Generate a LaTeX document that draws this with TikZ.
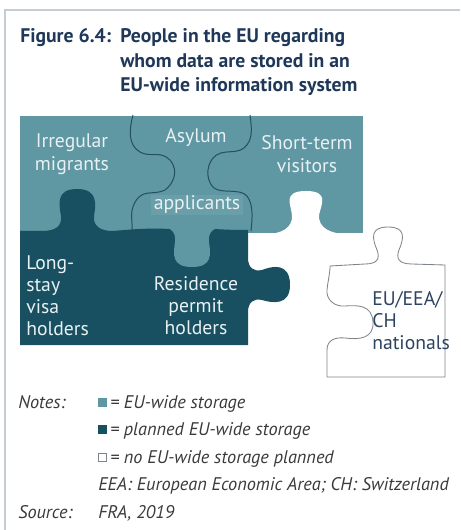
\documentclass[tikz,border=0pt]{standalone}
\usepackage{fontspec}
\setmainfont{PT Sans}
\definecolor{lightteal}{HTML}{5F97A3}
\definecolor{darkteal}{HTML}{184F61}
\definecolor{seam}{HTML}{22505C}
\definecolor{titleblue}{HTML}{1F3859}
\definecolor{piecetext}{HTML}{E8F1F3}
\definecolor{framegray}{HTML}{C5CCD3}
\definecolor{notegray}{HTML}{3A3A3A}
\definecolor{outlinegray}{HTML}{7D848A}
\begin{document}
\begin{tikzpicture}[x=0.025cm,y=-0.025cm,
    titleline/.style={anchor=base west,inner sep=0pt,text=titleblue,font=\fontsize{14}{17}\selectfont\bfseries},
    piecelabel/.style={inner sep=0pt,text=piecetext,align=center,font=\fontsize{14}{16.4}\selectfont},
    noteline/.style={anchor=base west,inner sep=0pt,text=notegray,font=\fontsize{13}{15}\selectfont\itshape}]
  \useasboundingbox (0,0) rectangle (460,530);
  % frame
  \draw [framegray, line width=1.4pt] (5,530) -- (5,10) -- (460,10);
  % title
  \node [titleline] (fig) at (20,43) {Figure 6.4:};
  \node [titleline] (title1) at (120,43) {People in the EU regarding};
  \node [titleline] (title2) at (120,68) {whom data are stored in an};
  \node [titleline] (title3) at (120,92) {EU-wide information system};
  % puzzle
  \fill [lightteal] (20,116) rectangle (363,233);
  \fill [darkteal] (20,231) -- (42,231) .. controls (56,231) and (62,226) .. (61,216)
    .. controls (59,204) and (56,189) .. (77,189) .. controls (98,189) and (96,204) .. (94,216)
    .. controls (93,226) and (100,231) .. (113,231) .. controls (135,229) and (150,228) .. (170,229)
    -- (215,229) .. controls (230,230) and (240,230) .. (248,230) -- (248,258)
    .. controls (248,268) and (254,272) .. (262,270) .. controls (272,266) and (290,262) .. (290,285)
    .. controls (290,306) and (272,303) .. (262,300) .. controls (254,298) and (248,302) .. (248,312)
    -- (248,345) -- (20,345) -- cycle;
  \fill [lightteal] (162,226) .. controls (171,228) and (176,232) .. (175,242)
    .. controls (173,255) and (172,267) .. (192,267) .. controls (212,267) and (211,255) .. (209,242)
    .. controls (208,232) and (213,228) .. (224,226) -- cycle;
  \fill [white] (266,234) .. controls (281,234) and (293,228) .. (292,215)
    .. controls (291,205) and (282,191) .. (306,191) .. controls (330,191) and (321,205) .. (319,215)
    .. controls (318,228) and (331,234) .. (347,234) -- cycle;
  \draw [seam, line width=0.7pt] (133,115) .. controls (129,130) and (128,145) .. (140,152)
    .. controls (150,158) and (160,150) .. (170,160) .. controls (180,172) and (172,185) .. (165,190)
    .. controls (155,195) and (145,190) .. (138,198) .. controls (128,210) and (133,220) .. (132,230);
  \draw [seam, line width=0.7pt] (250,115) .. controls (252,130) and (253,140) .. (244,148)
    .. controls (235,155) and (222,148) .. (213,158) .. controls (205,168) and (207,182) .. (214,188)
    .. controls (222,194) and (240,188) .. (247,196) .. controls (254,205) and (252,220) .. (251,231);
  \draw [outlinegray, line width=0.6pt, fill=white] (327,377) -- (327,350)
    .. controls (327,340) and (335,337) .. (345,338) .. controls (360,340) and (374,338) .. (373,322)
    .. controls (372,305) and (358,305) .. (345,306) .. controls (335,307) and (326,300) .. (327,290)
    .. controls (328,280) and (330,274) .. (330,266) -- (365,264)
    .. controls (378,264) and (380,258) .. (377,250) .. controls (372,238) and (370,227) .. (388,227)
    .. controls (406,227) and (404,238) .. (399,250) .. controls (396,258) and (398,264) .. (412,264)
    -- (445,265) -- (445,377) -- cycle;
  % labels
  \node [piecelabel] (irregular) at (72,154) {Irregular\\migrants};
  \node [piecelabel] (asylum) at (196,138) {Asylum};
  \node [piecelabel, fill=lightteal!93!white, inner xsep=2pt, inner ysep=1pt] (applicants) at (197,205) {applicants};
  \node [piecelabel, align=left, anchor=west, font=\fontsize{14}{15.6}\selectfont] (longstay) at (26,296) {Long-\\stay\\visa\\holders};
  \node [piecelabel] (shortterm) at (307,154) {Short-term\\visitors};
  \node [piecelabel, font=\fontsize{14}{15.6}\selectfont] (residence) at (196,306) {Residence\\permit\\holders};
  \node [piecelabel, align=left, anchor=west, text=titleblue!85!gray, font=\fontsize{14}{15.6}\selectfont] (nationals) at (372,321) {EU/EEA/\\CH\\nationals};
  % notes
  \node [noteline] (notes) at (18,408) {Notes:};
  \fill [lightteal] (98,398) rectangle (107,407);
  \node [noteline] (leg1) at (110,408) {= EU-wide storage};
  \fill [darkteal] (98,425) rectangle (107,434);
  \node [noteline] (leg2) at (110,435) {= planned EU-wide storage};
  \draw [outlinegray, line width=0.5pt] (98.5,453) rectangle (106.5,461.5);
  \node [noteline] (leg3) at (110,463) {= no EU-wide storage planned};
  \node [noteline] (abbr) at (98,490) {EEA: European Economic Area; CH: Switzerland};
  \node [noteline] (source) at (18,518) {Source:};
  \node [noteline] (fra) at (98,518) {FRA, 2019};
\end{tikzpicture}
\end{document}
